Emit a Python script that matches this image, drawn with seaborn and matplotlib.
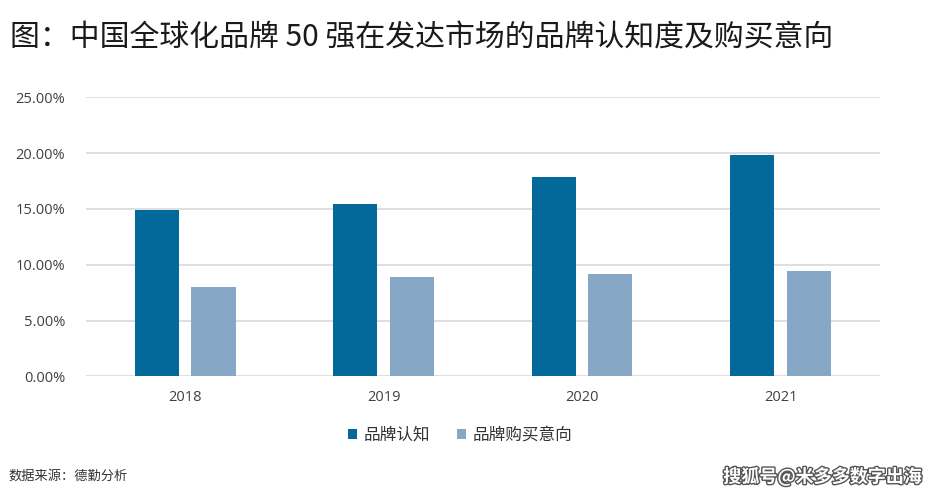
"""Brand awareness and purchase intention of top-50 Chinese global brands."""
import pandas as pd
import matplotlib.pyplot as plt
import matplotlib.patheffects as pe
from matplotlib.ticker import PercentFormatter
import seaborn as sns

years = ["2018", "2019", "2020", "2021"]
awareness = [0.149, 0.154, 0.179, 0.198]
intention = [0.080, 0.089, 0.092, 0.094]
series = ["品牌认知", "品牌购买意向"]
colors = ["#03699a", "#86a7c5"]

df = pd.DataFrame({
    "year": years * 2,
    "value": awareness + intention,
    "series": [series[0]] * 4 + [series[1]] * 4,
})

sns.set_style("white")
plt.rcParams["font.family"] = ["Noto Sans CJK SC", "DejaVu Sans"]

fig = plt.figure(figsize=(9.45, 5), dpi=100)
ax = fig.add_axes([0.091, 0.2474, 0.840, 0.558])

sns.barplot(data=df, x="year", y="value", hue="series", palette=colors,
            width=0.57, gap=0.22, ax=ax, saturation=1, legend=True,
            linewidth=0)

ax.set_ylim(0, 0.25)
ax.set_yticks([0, 0.05, 0.10, 0.15, 0.20, 0.25])
ax.yaxis.set_major_formatter(PercentFormatter(1.0, decimals=2))
ax.grid(axis="y", color="#d9d9d9", linewidth=1.2)
ax.set_axisbelow(True)
for s in ax.spines.values():
    s.set_visible(False)
ax.set_xlabel("")
ax.set_ylabel("")
ax.tick_params(axis="y", length=0, pad=15, labelsize=10.5, labelcolor="#404040")
ax.tick_params(axis="x", length=0, pad=10, labelsize=10.5, labelcolor="#404040")
for lbl in ax.get_xticklabels() + ax.get_yticklabels():
    lbl.set_family(["Open Sans", "DejaVu Sans"])

ax.legend(loc="center", bbox_to_anchor=(0.487, 0.13), bbox_transform=fig.transFigure,
          ncol=2, frameon=False, fontsize=12, handlelength=0.55, handleheight=0.55,
          handletextpad=0.4, columnspacing=1.6, labelcolor="#333333")

fig.text(0.011, 0.924, "图：中国全球化品牌 50 强在发达市场的品牌认知度及购买意向",
         fontsize=21.5, color="#1a1a1a", va="center", ha="left")
fig.text(0.009, 0.048, "数据来源：德勤分析", fontsize=9.5, color="#333333",
         va="center", ha="left")
fig.text(0.975, 0.046, "搜狐号@米多多数字出海", fontsize=13, color="white",
         va="center", ha="right", fontweight="bold",
         path_effects=[pe.withStroke(linewidth=2, foreground="#555555")])

plt.savefig("out.png", dpi=100)
plt.close()
